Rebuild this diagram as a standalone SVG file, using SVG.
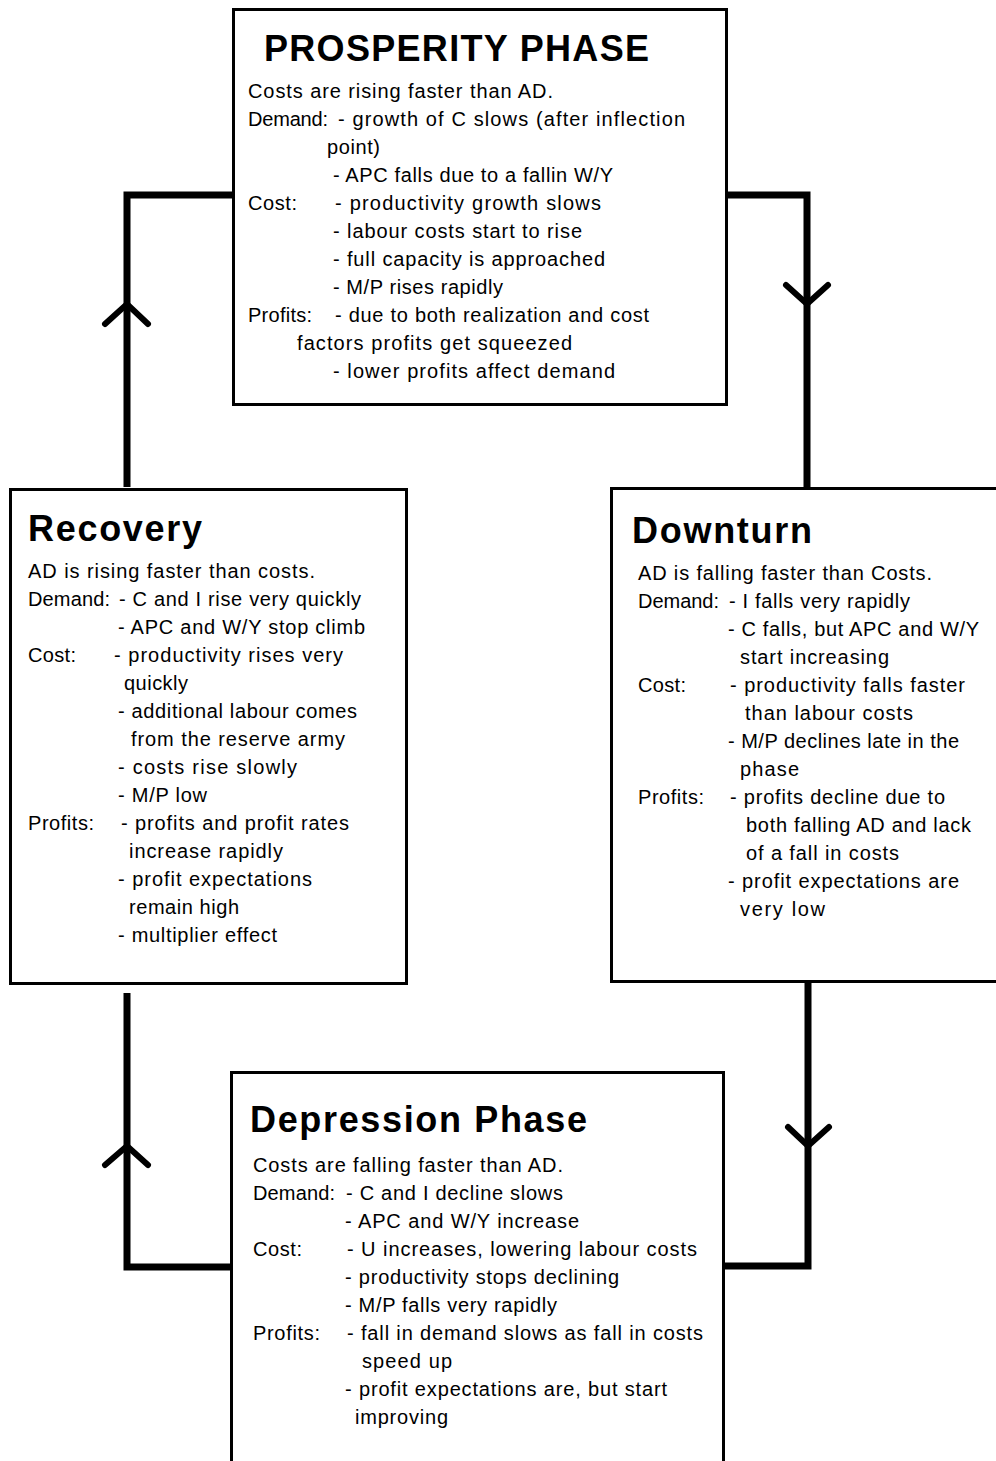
<svg xmlns="http://www.w3.org/2000/svg" width="996" height="1461" viewBox="0 0 996 1461">
<style>
.box{fill:#fff;stroke:#000;stroke-width:3}
.t{font-family:"Liberation Sans",Arial,sans-serif;font-size:20px;fill:#000}
.h{font-family:"Liberation Sans",Arial,sans-serif;font-size:36px;font-weight:bold;fill:#000}
.c{fill:none;stroke:#000;stroke-width:7;stroke-linejoin:miter}
.a{fill:none;stroke:#000;stroke-width:6;stroke-linecap:round;stroke-linejoin:miter}
</style>
<rect width="996" height="1461" fill="#fff"/>
<g id="connectors">
<path class="c" d="M233 195 H127 V487"/>
<path class="a" d="M105 324 L127 304 L148 324"/>
<path class="c" d="M727 195 H807 V487"/>
<path class="a" d="M786 285 L807 304 L828 285"/>
<path class="c" d="M231 1267 H127 V993"/>
<path class="a" d="M105 1165 L127 1146 L148 1165"/>
<path class="c" d="M808 982 V1266 H724"/>
<path class="a" d="M788 1127 L808 1146 L829 1127"/>
</g>
<g id="prosperity">
<rect class="box" x="233.5" y="9.5" width="493" height="395"/>
<text class="h" x="264" y="61" textLength="385" lengthAdjust="spacing">PROSPERITY PHASE</text>
<text class="t" x="248" y="98" textLength="305" lengthAdjust="spacing">Costs are rising faster than AD.</text>
<text class="t" x="248" y="126" textLength="80" lengthAdjust="spacing">Demand:</text>
<text class="t" x="338" y="126" textLength="347" lengthAdjust="spacing">- growth of C slows (after inflection</text>
<text class="t" x="327" y="154" textLength="53" lengthAdjust="spacing">point)</text>
<text class="t" x="333" y="182" textLength="280" lengthAdjust="spacing">- APC falls due to a fallin W/Y</text>
<text class="t" x="248" y="210" textLength="49" lengthAdjust="spacing">Cost:</text>
<text class="t" x="335" y="210" textLength="266" lengthAdjust="spacing">- productivity growth slows</text>
<text class="t" x="333" y="238" textLength="249" lengthAdjust="spacing">- labour costs start to rise</text>
<text class="t" x="333" y="266" textLength="272" lengthAdjust="spacing">- full capacity is approached</text>
<text class="t" x="333" y="294" textLength="170" lengthAdjust="spacing">- M/P rises rapidly</text>
<text class="t" x="248" y="322" textLength="64" lengthAdjust="spacing">Profits:</text>
<text class="t" x="335" y="322" textLength="314" lengthAdjust="spacing">- due to both realization and cost</text>
<text class="t" x="297" y="350" textLength="275" lengthAdjust="spacing">factors profits get squeezed</text>
<text class="t" x="333" y="378" textLength="282" lengthAdjust="spacing">- lower profits affect demand</text>
</g>
<g id="recovery">
<rect class="box" x="10.5" y="489.5" width="396" height="494"/>
<text class="h" x="28" y="541" textLength="174" lengthAdjust="spacing">Recovery</text>
<text class="t" x="28" y="578" textLength="287" lengthAdjust="spacing">AD is rising faster than costs.</text>
<text class="t" x="28" y="606" textLength="82" lengthAdjust="spacing">Demand:</text>
<text class="t" x="119" y="606" textLength="242" lengthAdjust="spacing">- C and I rise very quickly</text>
<text class="t" x="118" y="634" textLength="247" lengthAdjust="spacing">- APC and W/Y stop climb</text>
<text class="t" x="28" y="662" textLength="48" lengthAdjust="spacing">Cost:</text>
<text class="t" x="114" y="662" textLength="229" lengthAdjust="spacing">- productivity rises very</text>
<text class="t" x="124" y="690" textLength="64" lengthAdjust="spacing">quickly</text>
<text class="t" x="118" y="718" textLength="239" lengthAdjust="spacing">- additional labour comes</text>
<text class="t" x="131" y="746" textLength="214" lengthAdjust="spacing">from the reserve army</text>
<text class="t" x="118" y="774" textLength="179" lengthAdjust="spacing">- costs rise slowly</text>
<text class="t" x="118" y="802" textLength="89" lengthAdjust="spacing">- M/P low</text>
<text class="t" x="28" y="830" textLength="66" lengthAdjust="spacing">Profits:</text>
<text class="t" x="121" y="830" textLength="228" lengthAdjust="spacing">- profits and profit rates</text>
<text class="t" x="129" y="858" textLength="154" lengthAdjust="spacing">increase rapidly</text>
<text class="t" x="118" y="886" textLength="194" lengthAdjust="spacing">- profit expectations</text>
<text class="t" x="129" y="914" textLength="110" lengthAdjust="spacing">remain high</text>
<text class="t" x="118" y="942" textLength="159" lengthAdjust="spacing">- multiplier effect</text>
</g>
<g id="downturn">
<rect class="box" x="611.5" y="488.5" width="400" height="493"/>
<text class="h" x="632" y="543" textLength="180" lengthAdjust="spacing">Downturn</text>
<text class="t" x="638" y="580" textLength="294" lengthAdjust="spacing">AD is falling faster than Costs.</text>
<text class="t" x="638" y="608" textLength="81" lengthAdjust="spacing">Demand:</text>
<text class="t" x="729" y="608" textLength="181" lengthAdjust="spacing">- I falls very rapidly</text>
<text class="t" x="728" y="636" textLength="251" lengthAdjust="spacing">- C falls, but APC and W/Y</text>
<text class="t" x="740" y="664" textLength="149" lengthAdjust="spacing">start increasing</text>
<text class="t" x="638" y="692" textLength="48" lengthAdjust="spacing">Cost:</text>
<text class="t" x="730" y="692" textLength="235" lengthAdjust="spacing">- productivity falls faster</text>
<text class="t" x="745" y="720" textLength="168" lengthAdjust="spacing">than labour costs</text>
<text class="t" x="728" y="748" textLength="231" lengthAdjust="spacing">- M/P declines late in the</text>
<text class="t" x="740" y="776" textLength="59" lengthAdjust="spacing">phase</text>
<text class="t" x="638" y="804" textLength="66" lengthAdjust="spacing">Profits:</text>
<text class="t" x="730" y="804" textLength="215" lengthAdjust="spacing">- profits decline due to</text>
<text class="t" x="746" y="832" textLength="225" lengthAdjust="spacing">both falling AD and lack</text>
<text class="t" x="746" y="860" textLength="153" lengthAdjust="spacing">of a fall in costs</text>
<text class="t" x="728" y="888" textLength="231" lengthAdjust="spacing">- profit expectations are</text>
<text class="t" x="740" y="916" textLength="85" lengthAdjust="spacing">very low</text>
</g>
<g id="depression">
<rect class="box" x="231.5" y="1072.5" width="492" height="400"/>
<text class="h" x="250" y="1132" textLength="337" lengthAdjust="spacing">Depression Phase</text>
<text class="t" x="253" y="1172" textLength="310" lengthAdjust="spacing">Costs are falling faster than AD.</text>
<text class="t" x="253" y="1200" textLength="82" lengthAdjust="spacing">Demand:</text>
<text class="t" x="346" y="1200" textLength="217" lengthAdjust="spacing">- C and I decline slows</text>
<text class="t" x="345" y="1228" textLength="234" lengthAdjust="spacing">- APC and W/Y increase</text>
<text class="t" x="253" y="1256" textLength="49" lengthAdjust="spacing">Cost:</text>
<text class="t" x="347" y="1256" textLength="350" lengthAdjust="spacing">- U increases, lowering labour costs</text>
<text class="t" x="345" y="1284" textLength="274" lengthAdjust="spacing">- productivity stops declining</text>
<text class="t" x="345" y="1312" textLength="212" lengthAdjust="spacing">- M/P falls very rapidly</text>
<text class="t" x="253" y="1340" textLength="67" lengthAdjust="spacing">Profits:</text>
<text class="t" x="347" y="1340" textLength="356" lengthAdjust="spacing">- fall in demand slows as fall in costs</text>
<text class="t" x="362" y="1368" textLength="90" lengthAdjust="spacing">speed up</text>
<text class="t" x="345" y="1396" textLength="322" lengthAdjust="spacing">- profit expectations are, but start</text>
<text class="t" x="355" y="1424" textLength="93" lengthAdjust="spacing">improving</text>
</g>
</svg>
